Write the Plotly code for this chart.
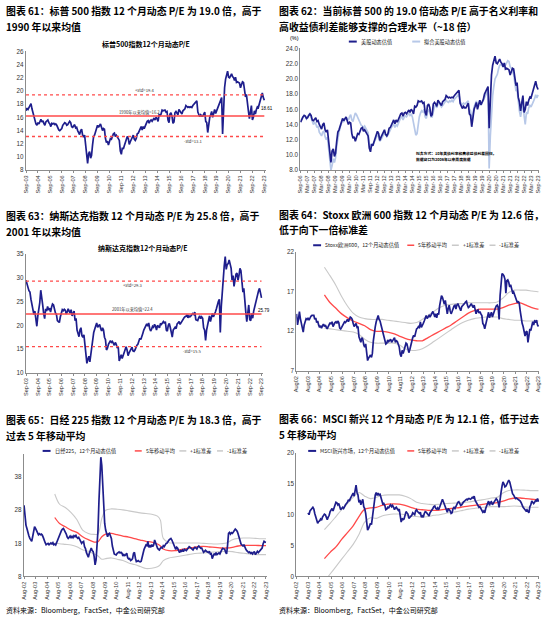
import pandas as pd
import plotly.graph_objects as go

# ======================= DATA =======================
# Fig 61/62: S&P 500 12M forward P/E, monthly 2003-09 .. 2023-09
sp500_start = "2003-09-01"
sp500_pe = [
    17.0, 17.4, 17.2, 17.6,
    17.9, 18.1, 17.3, 16.6, 16.0, 15.6, 15.0, 14.8, 15.2, 15.0, 15.5, 15.7,
    15.3, 15.5, 15.1, 14.8, 15.3, 15.4, 15.6, 15.2, 15.0, 14.6, 15.1, 15.0,
    15.1, 14.9, 15.0, 14.8, 14.3, 14.1, 14.0, 14.2, 14.3, 14.8, 15.0, 15.2,
    15.1, 14.8, 14.9, 15.2, 15.4, 15.2, 14.6, 14.5, 14.8, 14.9, 14.4, 14.5,
    14.0, 13.6, 13.4, 14.0, 14.2, 13.3, 13.0, 13.3, 12.0, 10.0, 9.0, 10.5,
    10.8, 9.8, 10.2, 11.8, 13.0, 13.3, 13.9, 14.4, 14.8, 14.5, 14.8, 15.0,
    14.5, 14.0, 14.3, 14.2, 12.8, 12.2, 12.4, 11.8, 12.3, 12.8, 12.7, 13.2,
    13.5, 13.6, 13.1, 13.3, 13.0, 12.6, 12.5, 10.9, 10.4, 11.4, 11.2, 11.7,
    12.2, 12.6, 13.1, 12.8, 11.9, 12.3, 12.6, 12.9, 13.3, 12.7, 12.5, 12.8,
    13.5, 13.6, 14.0, 14.2, 14.6, 14.1, 14.6, 14.3, 14.7, 15.0, 15.4, 15.5,
    15.1, 15.5, 15.6, 15.4, 15.6, 15.9, 15.6, 16.0, 15.8, 15.4, 16.4, 16.3,
    16.5, 17.1, 17.0, 17.0, 17.1, 16.8, 16.9, 15.6, 15.2, 16.5, 16.7, 16.2,
    15.1, 15.3, 16.7, 16.9, 16.7, 16.4, 17.2, 17.0, 16.8, 16.5, 17.0, 17.2,
    17.3, 17.8, 17.6, 17.5, 17.6, 17.5, 17.6, 17.5, 17.8, 18.0, 18.1, 18.4,
    18.5, 16.8, 16.4, 16.1, 16.4, 16.2, 16.2, 16.6, 16.8, 15.4, 15.2, 13.7,
    15.1, 16.0, 16.4, 16.9, 16.0, 16.8, 17.2, 16.6, 17.0, 17.3, 18.0, 18.3,
    18.6, 19.0, 13.5, 17.5, 20.5, 21.8, 22.4, 23.0, 22.1, 22.0, 22.3, 22.6,
    22.2, 22.0, 21.6, 22.1, 21.3, 21.4, 21.3, 21.2, 20.5, 20.9, 21.4, 21.3,
    20.0, 19.1, 19.5, 17.6, 17.0, 15.8, 16.8, 17.8, 15.6, 16.0, 17.0, 16.5,
    17.2, 17.6, 17.5, 18.0, 18.4, 19.1, 19.7, 19.0, 18.6,
]
sp500_mean, sp500_up, sp500_dn = 16.2, 19.4, 13.1
sp500_last_label = "18.61"

# Fig 62: fitted P/E, monthly 2006-09 .. 2023-09 (actual = sp500_pe from 2006-09)
fit_start = "2006-09-01"
fit_pe = [
    14.5, 14.8, 15.0, 15.1,
    15.0, 14.7, 14.9, 15.3, 15.4, 14.9, 14.4, 14.0, 14.3, 14.1, 13.6, 13.8,
    13.0, 12.8, 12.5, 13.0, 13.1, 12.4, 12.0, 12.3, 10.8, 8.8, 8.0, 8.6,
    9.5, 9.0, 9.6, 11.2, 12.5, 13.0, 13.6, 14.2, 14.6, 14.4, 14.7, 14.9,
    14.8, 14.6, 15.0, 15.3, 14.6, 14.4, 15.0, 15.5, 15.3, 14.9, 14.5, 14.2,
    13.9, 13.8, 13.6, 13.8, 13.5, 13.2, 12.9, 11.5, 11.0, 11.5, 11.2, 11.6,
    12.0, 12.2, 12.6, 12.5, 11.8, 12.0, 12.3, 12.6, 12.9, 12.6, 12.4, 12.6,
    13.1, 13.3, 13.6, 13.9, 14.1, 13.6, 14.0, 13.8, 14.2, 14.5, 14.9, 15.0,
    14.6, 15.0, 15.1, 15.0, 15.3, 15.5, 15.2, 15.4, 15.0, 14.2, 13.0, 12.6,
    12.8, 14.2, 15.0, 15.5, 15.8, 15.6, 16.0, 15.0, 14.8, 15.6, 15.9, 15.7,
    15.0, 15.0, 16.0, 16.4, 16.5, 16.2, 16.7, 16.8, 16.6, 16.3, 16.5, 16.8,
    16.9, 17.2, 17.0, 16.9, 17.1, 17.0, 17.2, 17.0, 17.3, 17.5, 17.7, 17.9,
    18.0, 17.0, 16.8, 16.6, 16.8, 16.7, 16.8, 17.0, 17.1, 16.0, 15.8, 14.6,
    15.6, 16.3, 16.7, 17.1, 16.4, 16.8, 17.2, 16.5, 16.9, 17.2, 17.6, 17.9,
    18.2, 18.5, 8.2, 12.5, 15.8, 17.8, 19.0, 20.0, 20.3, 20.6, 21.3, 21.8,
    21.9, 21.8, 21.5, 22.0, 21.8, 22.2, 22.4, 22.3, 21.6, 21.4, 21.0, 20.6,
    19.5, 18.4, 18.6, 16.8, 15.8, 15.0, 16.0, 16.9, 15.2, 14.0, 15.6, 15.4,
    16.2, 16.5, 16.3, 16.8, 17.0, 17.4, 17.9, 17.5, 17.9,
]

# Fig 63: Nasdaq 12M forward P/E, monthly 2003-09 .. 2023-09
ndx_start = "2003-09-01"
ndx_pe = [
    29.5, 28.5, 28.0, 27.3,
    27.0, 25.5, 24.5, 23.0, 22.3, 23.0, 21.0, 19.8, 22.0, 23.2, 24.8, 27.4,
    25.0, 24.2, 22.5, 21.4, 23.5, 23.0, 24.0, 23.2, 23.6, 22.8, 23.8, 24.5,
    24.3, 23.0, 22.6, 22.3, 21.0, 20.8, 20.6, 21.8, 22.5, 23.3, 23.1, 23.4,
    23.2, 22.4, 22.8, 23.5, 23.0, 22.6, 23.3, 22.0, 22.5, 23.0, 21.0, 21.5,
    19.0, 18.2, 17.6, 19.0, 19.5, 17.8, 17.5, 18.0, 15.5, 13.5, 12.0, 12.8,
    13.5, 12.3, 14.0, 16.0, 17.5, 18.5, 19.2, 19.8, 20.5, 19.6, 20.0, 20.2,
    19.4, 18.8, 19.5, 19.0, 17.5, 17.0, 14.8, 15.2, 16.0, 16.5, 16.8, 16.4,
    16.6, 16.2, 15.8, 16.4, 16.0, 15.2, 15.5, 12.5, 13.2, 13.8, 13.0, 13.6,
    14.4, 15.2, 15.5, 14.8, 13.6, 14.2, 14.5, 15.0, 15.4, 14.6, 14.5, 14.8,
    15.4, 15.8, 16.0, 16.5, 17.3, 17.0, 18.0, 18.3, 19.0, 19.5, 19.8, 20.3,
    19.8, 20.5, 19.4, 18.8, 19.2, 19.8, 19.6, 20.2, 19.8, 19.0, 20.0, 19.8,
    19.5, 20.4, 20.2, 20.5, 20.8, 20.4, 20.8, 19.0, 18.8, 20.0, 20.4, 19.6,
    18.0, 17.5, 19.0, 19.2, 19.6, 19.3, 20.3, 20.5, 20.8, 20.2, 20.6, 20.9,
    21.2, 21.6, 21.8, 21.9, 22.2, 21.6, 22.0, 21.8, 22.0, 22.4, 22.5, 22.3,
    22.8, 21.2, 21.0, 21.0, 21.6, 22.0, 21.4, 21.8, 21.5, 19.5, 19.0, 16.8,
    19.0, 20.3, 21.0, 22.0, 20.8, 21.8, 22.5, 21.8, 22.2, 22.8, 23.5, 24.5,
    25.0, 25.5, 18.5, 24.0, 27.5, 30.0, 32.5, 34.5, 31.8, 32.8, 33.0, 33.8,
    33.0, 32.0, 29.5, 30.5, 28.2, 30.0, 30.8, 31.0, 29.5, 30.5, 32.0, 31.5,
    28.2, 27.0, 27.8, 24.5, 22.8, 20.8, 23.2, 24.3, 21.2, 21.0, 22.5, 21.5,
    23.0, 24.0, 24.8, 25.2, 26.2, 27.3, 27.8, 26.2, 25.8,
]
ndx_mean, ndx_up, ndx_dn = 22.4, 29.3, 15.5
ndx_last_label = "25.79"

# Fig 64: Stoxx Europe 600, monthly 2002-08 .. 2023-08
stoxx_start = "2002-08-01"
stoxx_pe = [
    14.2, 12.8, 13.5, 14.5, 13.6,
    12.8, 12.0, 11.9, 12.8, 13.2, 13.6, 13.5, 13.7, 13.4, 13.8, 13.9, 14.0,
    14.0, 14.0, 13.5, 13.7, 13.1, 13.3, 12.8, 12.5, 12.7, 12.4, 12.7, 12.9,
    12.6, 12.8, 12.5, 12.3, 12.6, 12.8, 13.1, 12.9, 13.2, 12.6, 12.9, 13.1,
    13.2, 13.0, 13.3, 13.1, 12.4, 12.3, 12.5, 12.8, 13.0, 13.2, 13.1, 13.4,
    13.5, 13.2, 13.4, 13.8, 13.7, 13.5, 13.0, 12.6, 12.8, 13.0, 12.5, 12.6,
    11.3, 11.0, 10.6, 11.2, 11.0, 10.3, 10.0, 10.4, 9.5, 8.3, 8.6, 8.8,
    9.0, 8.7, 9.2, 10.8, 12.2, 12.6, 13.2, 13.8, 14.0, 13.5, 13.3, 12.8,
    12.3, 11.6, 11.5, 11.0, 10.4, 10.5, 10.9, 10.7, 10.9, 11.0, 10.6, 10.8,
    11.0, 11.2, 10.6, 10.8, 10.7, 10.3, 10.0, 9.1, 8.8, 9.6, 9.2, 9.6,
    10.1, 10.5, 10.4, 10.0, 9.3, 9.7, 10.3, 10.8, 11.2, 11.5, 11.3, 11.8,
    12.3, 12.4, 12.6, 12.5, 13.2, 12.5, 12.9, 13.0, 13.3, 13.8, 14.0, 13.6,
    13.8, 14.0, 13.8, 14.1, 14.3, 14.5, 14.2, 13.8, 14.2, 13.7, 14.3, 14.1,
    15.2, 16.0, 16.5, 16.3, 15.8, 15.4, 15.9, 15.0, 14.2, 14.9, 15.3, 14.6,
    14.2, 14.5, 15.0, 15.2, 15.3, 14.8, 15.3, 15.5, 15.2, 14.8, 14.6, 15.1,
    15.2, 15.4, 15.5, 15.7, 15.8, 15.3, 15.0, 15.1, 15.4, 15.5, 15.2, 15.0,
    15.3, 14.5, 14.2, 14.6, 14.7, 14.3, 14.5, 14.2, 14.0, 13.0, 12.8, 12.3,
    12.9, 13.5, 13.9, 14.4, 13.7, 14.2, 14.4, 13.8, 14.3, 14.5, 14.9, 15.2,
    15.3, 15.0, 13.5, 16.5, 18.0, 19.3, 19.2, 19.0, 18.6, 16.8, 18.4, 18.5,
    18.2, 17.6, 17.9, 17.5, 16.9, 17.0, 16.6, 16.5, 15.8, 15.6, 15.8, 15.5,
    14.5, 13.5, 13.0, 12.6, 12.1, 11.4, 11.9, 12.0, 10.6, 11.2, 12.3, 12.1,
    12.8, 13.2, 12.8, 13.3, 13.2, 13.4, 12.8, 12.6,
]
stoxx_band_dates = [f"{y}-{m}-01" for y in range(2005, 2024) for m in ("01", "07")][:38] + ["2023-08-01"]
stoxx_ma = [16.6, 15.6, 14.9, 14.2, 13.7, 13.3, 13.0, 12.7, 12.2, 12.0, 12.0, 11.9, 11.7, 11.4,
            11.1, 10.9, 10.8, 10.8, 11.2, 11.6, 12.0, 12.4, 12.8, 13.3, 13.8, 14.3, 14.6, 14.8,
            14.8, 14.8, 14.8, 15.0, 15.3, 15.5, 15.6, 15.3, 15.0, 14.8, 14.8]
stoxx_up = [20.1, 19.0, 17.8, 16.4, 15.2, 14.3, 13.8, 13.6, 13.5, 13.5, 13.5, 13.4, 13.3, 13.2,
            13.1, 13.0, 13.1, 13.5, 14.0, 14.5, 15.0, 15.3, 15.4, 15.5, 15.5, 15.6, 15.6, 15.6,
            15.6, 15.6, 15.7, 16.2, 16.9, 17.2, 17.2, 17.2, 17.1, 17.0, 17.0]
stoxx_dn = [12.4, 12.3, 12.2, 12.1, 12.0, 11.9, 11.6, 11.0, 10.6, 10.5, 10.5, 10.5, 10.5, 10.3,
            9.8, 9.6, 9.6, 9.8, 10.2, 10.7, 11.2, 11.7, 12.2, 12.7, 13.1, 13.4, 13.6, 13.7,
            13.8, 13.8, 13.8, 13.6, 13.5, 13.4, 13.4, 13.3, 13.3, 13.3, 13.3]

# Fig 65: Nikkei 225, monthly 2002-08 .. 2023-08
nikkei_start = "2002-08-01"
nikkei_pe = [
    29.5, 26.0, 23.5, 22.5, 21.0,
    20.3, 19.5, 19.0, 18.6, 20.0, 21.5, 23.0, 22.5, 21.8, 21.2, 20.6, 20.9,
    20.6, 20.8, 20.5, 19.8, 18.8, 18.2, 17.6, 17.7, 18.0, 17.6, 17.9, 18.1,
    17.8, 18.2, 17.6, 17.8, 17.5, 18.3, 18.6, 19.4, 20.6, 21.2, 21.9, 22.3,
    22.5, 21.9, 21.5, 20.8, 19.9, 19.5, 19.8, 20.2, 19.6, 20.1, 19.7, 20.3,
    20.0, 20.4, 19.8, 19.5, 19.8, 19.2, 18.8, 18.0, 18.4, 18.6, 17.0, 16.4,
    15.2, 14.5, 13.8, 15.0, 16.0, 16.6, 15.8, 15.5, 14.0, 11.5, 13.0, 17.0,
    22.0, 31.0, 38.0, 44.0, 41.5, 34.0, 28.0, 24.0, 22.0, 20.5, 20.0, 20.8,
    21.0, 20.2, 19.5, 17.2, 15.8, 14.8, 14.6, 14.5, 15.0, 15.2, 15.4, 15.1,
    15.3, 15.0, 14.2, 14.6, 14.3, 14.6, 15.0, 13.6, 13.3, 13.4, 12.8, 13.0,
    13.4, 15.0, 15.3, 13.5, 12.5, 12.6, 12.8, 12.5, 12.4, 12.6, 13.5, 15.0,
    16.2, 16.8, 17.5, 17.3, 18.6, 16.8, 17.5, 16.8, 17.6, 17.0, 17.5, 19.0,
    18.0, 17.0, 16.6, 16.2, 16.0, 16.5, 16.8, 16.6, 17.3, 17.0, 17.8, 18.0,
    18.1, 18.8, 19.0, 19.3, 19.5, 19.0, 18.2, 17.5, 16.6, 16.2, 16.8, 16.5,
    15.8, 15.2, 15.8, 15.6, 16.0, 15.5, 16.2, 16.0, 15.8, 16.2, 16.5, 17.0,
    16.8, 16.6, 16.2, 16.0, 16.5, 16.8, 16.6, 16.3, 16.9, 17.2, 16.8, 16.5,
    16.6, 15.6, 15.3, 15.6, 15.9, 15.6, 15.4, 15.2, 15.6, 14.8, 14.9, 13.4,
    14.2, 14.8, 14.6, 15.2, 14.6, 14.9, 15.1, 14.8, 15.6, 16.1, 16.5, 16.4,
    16.2, 15.3, 14.8, 17.5, 21.0, 21.3, 20.8, 21.2, 21.0, 21.4, 22.0, 22.3,
    22.0, 21.6, 20.8, 19.8, 18.6, 17.8, 17.5, 17.2, 17.6, 16.6, 16.2, 15.8,
    15.5, 15.2, 15.4, 15.0, 15.2, 14.8, 15.3, 15.4, 14.6, 15.0, 15.6, 15.2,
    15.5, 15.8, 16.0, 16.6, 17.8, 18.6, 18.4, 18.3,
]
nikkei_band_dates = ["2005-04-01", "2005-09-01", "2006-03-01", "2006-09-01", "2007-03-01", "2007-09-01",
                     "2008-03-01", "2008-09-01", "2009-01-01", "2009-05-01", "2009-09-01", "2010-03-01",
                     "2010-09-01", "2011-03-01", "2011-09-01", "2012-03-01", "2012-09-01", "2013-03-01",
                     "2013-09-01", "2014-03-01", "2014-06-01", "2014-09-01", "2015-03-01", "2015-09-01",
                     "2016-03-01", "2016-09-01", "2017-03-01", "2017-09-01", "2018-03-01", "2018-09-01",
                     "2019-03-01", "2019-09-01", "2020-03-01", "2020-09-01", "2021-03-01", "2021-09-01",
                     "2022-03-01", "2022-09-01", "2023-03-01", "2023-08-01"]
nikkei_ma = [25.8, 24.0, 23.0, 22.0, 21.3, 20.0, 19.1, 18.4, 18.5, 20.0, 20.8, 21.0, 20.6, 20.2,
             19.9, 19.4, 19.0, 18.6, 18.4, 17.8, 17.2, 16.3, 15.8, 15.8, 16.1, 16.4, 16.7, 17.0,
             17.1, 16.9, 16.8, 16.6, 16.6, 16.8, 17.2, 17.4, 17.4, 17.4, 17.3, 17.3]
nikkei_up = [32.9, 29.8, 28.8, 27.3, 25.2, 22.0, 21.0, 20.7, 20.8, 25.5, 28.0, 28.4, 28.3, 28.1,
             27.8, 27.5, 27.2, 27.0, 26.8, 26.2, 25.0, 19.5, 18.2, 18.1, 18.1, 18.1, 18.1, 18.1,
             18.0, 17.9, 17.8, 17.9, 18.1, 19.1, 19.5, 19.6, 19.6, 19.5, 19.4, 19.4]
nikkei_dn = [18.1, 17.9, 17.7, 17.5, 17.0, 16.1, 15.6, 14.8, 14.2, 13.2, 13.4, 13.6, 13.2, 12.8,
             12.1, 11.6, 11.0, 10.4, 10.5, 10.9, 11.6, 12.8, 13.6, 13.9, 14.2, 14.5, 14.8, 15.0,
             15.1, 15.3, 15.4, 15.5, 15.6, 15.5, 15.2, 15.0, 14.8, 14.6, 14.6, 14.6]

# Fig 66: MSCI EM, monthly 2003-08 .. 2023-08
msci_start = "2003-08-01"
msci_pe = [
    10.3, 10.0, 10.6, 10.9, 11.0,
    11.2, 10.9, 10.2, 9.6, 8.8, 8.6, 8.9, 9.0, 9.3, 9.1, 9.6, 9.9,
    10.1, 10.0, 9.4, 9.2, 9.6, 9.9, 10.5, 10.8, 11.0, 10.6, 11.2, 11.6,
    12.0, 11.9, 11.6, 11.8, 11.2, 10.8, 11.0, 11.2, 11.0, 11.4, 11.6, 11.8,
    12.0, 12.4, 12.2, 12.6, 13.0, 13.2, 13.5, 13.0, 13.8, 14.8, 13.6, 13.2,
    12.0, 12.4, 11.6, 12.2, 12.5, 11.3, 11.0, 10.2, 9.0, 7.5, 7.8, 8.4,
    8.6, 8.4, 9.5, 11.0, 12.6, 13.2, 13.6, 13.1, 13.5, 13.2, 13.3, 12.8,
    12.2, 11.6, 11.8, 11.5, 10.8, 10.9, 11.2, 11.1, 11.4, 11.6, 11.3, 11.5,
    11.2, 10.8, 11.1, 11.2, 10.9, 10.7, 10.9, 9.6, 8.8, 9.4, 9.2, 9.3,
    10.0, 10.5, 10.3, 10.1, 9.4, 9.6, 9.8, 9.9, 10.3, 10.2, 10.0, 10.6,
    10.8, 10.5, 10.3, 10.2, 10.4, 9.6, 9.8, 9.6, 10.2, 10.5, 10.4, 10.2,
    9.9, 9.8, 10.3, 10.5, 10.8, 11.0, 11.3, 11.4, 11.0, 10.9, 11.1, 10.8,
    11.2, 11.6, 11.8, 12.5, 12.1, 11.6, 11.3, 10.6, 10.4, 11.0, 10.8, 10.6,
    10.2, 10.3, 11.0, 11.2, 11.0, 11.3, 11.8, 12.0, 12.1, 11.9, 11.5, 11.6,
    11.9, 12.1, 12.2, 12.3, 12.5, 12.4, 12.6, 12.6, 12.5, 12.6, 12.8, 12.7,
    13.0, 12.3, 12.0, 11.8, 11.6, 11.2, 11.3, 11.0, 10.8, 10.4, 10.6, 10.3,
    11.0, 11.6, 11.8, 12.2, 11.5, 12.0, 12.1, 11.6, 11.9, 12.2, 12.3, 12.6,
    12.4, 12.0, 11.2, 12.8, 13.6, 14.6, 15.3, 15.0, 14.5, 14.6, 15.0, 15.4,
    15.6, 15.3, 14.6, 14.0, 13.4, 13.2, 12.8, 12.6, 12.7, 12.6, 12.5, 12.4,
    12.2, 11.9, 11.5, 11.2, 11.0, 10.8, 10.6, 10.8, 10.4, 10.3, 11.3, 11.6,
    12.2, 12.0, 11.8, 12.0, 12.3, 12.2, 12.6, 12.1,
]
msci_band_dates = [f"{y}-{m}-01" for y in range(2005, 2023) for m in ("01", "07")] + ["2023-01-01", "2023-08-01"]
msci_ma = [2.9, 3.9, 4.8, 6.0, 7.1, 8.2, 9.7, 10.9, 11.1, 11.2, 11.5, 11.7, 11.75, 11.7, 11.5, 11.2,
           10.9, 10.8, 10.7, 10.7, 10.75, 10.9, 11.0, 11.1, 11.25, 11.4, 11.5, 11.6, 11.75, 11.85,
           11.95, 12.2, 12.5, 12.7, 12.7, 12.6, 12.5, 12.4]
msci_up = [7.6, 8.6, 9.7, 10.8, 11.8, 12.8, 13.6, 13.0, 12.6, 12.8, 13.1, 13.2, 13.2, 13.2, 13.0, 12.6,
           12.0, 11.8, 11.7, 11.6, 11.7, 11.8, 11.85, 11.9, 11.95, 12.05, 12.2, 12.35, 12.5, 12.7,
           12.8, 13.5, 13.9, 14.0, 14.0, 13.95, 13.9, 13.9]
msci_dn = [-0.8, 0.4, 1.6, 2.8, 4.0, 5.2, 6.8, 8.8, 9.5, 9.4, 9.8, 10.0, 10.1, 10.1, 10.0, 9.8,
           9.7, 9.6, 9.7, 9.9, 10.0, 10.2, 10.35, 10.5, 10.7, 10.9, 11.0, 11.15, 11.25, 11.3,
           11.3, 11.3, 11.35, 11.4, 11.35, 11.25, 11.2, 11.2]

# Tick labels
sep_ticks = [f"{y}-09-01" for y in range(2003, 2024)]
sep_labels = [f"Sep-{y % 100:02d}" for y in range(2003, 2024)]
semi_ticks = [f"{y}-{m}-01" for y in range(2006, 2024) for m in ("03", "09")][1:]
semi_labels = [f"{'Mar' if m == '03' else 'Sep'}-{y % 100:02d}" for y in range(2006, 2024) for m in ("03", "09")][1:]
aug_ticks = [f"{y}-08-01" for y in range(2002, 2024)]
aug_labels_nodash = [f"Aug{y % 100:02d}" for y in range(2002, 2024)]
aug_labels = [f"Aug-{y % 100:02d}" for y in range(2002, 2024)]

titles = [
    ("图表 61：标普 500 指数 12 个月动态 P/E 为 19.0 倍，高于", "1990 年以来均值"),
    ("图表 62：当前标普 500 的 19.0 倍动态 P/E 高于名义利率和", "高收益债利差能够支撑的合理水平（~18 倍）"),
    ("图表 63：纳斯达克指数 12 个月动态 P/E 为 25.8 倍，高于", "2001 年以来均值"),
    ("图表 64：Stoxx 欧洲 600 指数 12 个月动态 P/E 为 12.6 倍，", "低于向下一倍标准差"),
    ("图表 65：日经 225 指数 12 个月动态 P/E 为 18.3 倍，高于", "过去 5 年移动平均"),
    ("图表 66：MSCI 新兴 12 个月动态 P/E 为 12.1 倍，低于过去", "5 年移动平均"),
]
source_text = "资料来源：Bloomberg，FactSet，中金公司研究部"

# ======================= STYLE =======================
W, H = 550, 622
CJK = "Noto Sans CJK SC"
LAT = "Liberation Sans, Arial, sans-serif"
NAVY = "#1e1e8c"
LIGHT = "#b7c8e8"
RED = "#ff4a4a"
GRAY = "#c9c9c9"
AXC = "#8c8c8c"


def px(x):
    return x / W


def py(y):
    return 1 - y / H


def months(start, n):
    return pd.date_range(start, periods=n, freq="MS")


fig = go.Figure()
shapes, annotations = [], []


def line(x, y, color, width, ax, dash=None, spline=False):
    fig.add_trace(go.Scatter(
        x=x, y=y, mode="lines", xaxis="x" + ax, yaxis="y" + ax,
        line=dict(color=color, width=width, dash=dash,
                  shape="spline" if spline else "linear",
                  smoothing=0.9 if spline else None),
        hoverinfo="skip", showlegend=False))


# --- TL: S&P 500
d = months(sp500_start, len(sp500_pe))
line(d, sp500_pe, NAVY, 1.7, "")
for v, dash, w in ((sp500_mean, None, 1.4), (sp500_up, "dot", 1.3), (sp500_dn, "dot", 1.3)):
    line([d[0], d[-1]], [v, v], RED, w, "", dash=dash)
# --- TR
line(months(fit_start, len(fit_pe)), fit_pe, LIGHT, 1.7, "2")
line(months(fit_start, len(sp500_pe) - 36), sp500_pe[36:], NAVY, 1.7, "2")
# --- ML: Nasdaq
d = months(ndx_start, len(ndx_pe))
line(d, ndx_pe, NAVY, 1.7, "3")
for v, dash, w in ((ndx_mean, None, 1.4), (ndx_up, "dot", 1.3), (ndx_dn, "dot", 1.3)):
    line([d[0], d[-1]], [v, v], RED, w, "3", dash=dash)
# --- MR: Stoxx
line(stoxx_band_dates, stoxx_up, GRAY, 1.1, "4", spline=True)
line(stoxx_band_dates, stoxx_dn, GRAY, 1.1, "4", spline=True)
line(stoxx_band_dates, stoxx_ma, RED, 1.3, "4", spline=True)
line(months(stoxx_start, len(stoxx_pe)), stoxx_pe, NAVY, 1.7, "4")
# --- BL: Nikkei
line(nikkei_band_dates, nikkei_up, GRAY, 1.1, "5", spline=True)
line(nikkei_band_dates, nikkei_dn, GRAY, 1.1, "5", spline=True)
line(nikkei_band_dates, nikkei_ma, RED, 1.3, "5", spline=True)
line(months(nikkei_start, len(nikkei_pe)), nikkei_pe, NAVY, 1.7, "5")
# --- BR: MSCI EM
line(msci_band_dates, msci_up, GRAY, 1.1, "6", spline=True)
line(msci_band_dates, msci_dn, GRAY, 1.1, "6", spline=True)
line(msci_band_dates, msci_ma, RED, 1.3, "6", spline=True)
line(months(msci_start, len(msci_pe)), msci_pe, NAVY, 1.7, "6")

# ======================= AXES =======================
tickfont = dict(family=LAT, size=6.3, color="#333333")
xtickfont = dict(family=LAT, size=5.6, color="#333333")


def xax(dom, rng, tv, tt, anchor):
    return dict(domain=[px(dom[0]), px(dom[1])], range=rng, type="date", anchor=anchor,
                tickvals=tv, ticktext=tt, tickangle=-90, tickfont=xtickfont,
                showline=True, linecolor=AXC, linewidth=1, ticks="outside", ticklen=2,
                tickcolor=AXC, showgrid=False, zeroline=False, fixedrange=True)


def yax(dom, rng, dtick, anchor, fmt=None):
    return dict(domain=[py(dom[1]), py(dom[0])], range=rng, dtick=dtick, tick0=rng[0], anchor=anchor,
                tickfont=tickfont, tickformat=fmt, showline=True, linecolor=AXC, linewidth=1,
                ticks="", showgrid=False, zeroline=False, fixedrange=True)


layout = dict(
    width=W, height=H, margin=dict(l=0, r=0, t=0, b=0),
    paper_bgcolor="white", plot_bgcolor="white", showlegend=False, hovermode=False,
    xaxis=xax((23, 265), ["2003-08-25", "2023-10-10"], sep_ticks, sep_labels, "y"),
    yaxis=yax((48, 168), [8, 26], 2, "x"),
    xaxis2=xax((300, 541), ["2006-08-22", "2023-09-28"], semi_ticks, semi_labels, "y2"),
    yaxis2=yax((45, 168), [8, 24], 2, "x2", ".1f"),
    xaxis3=xax((23, 262), ["2003-08-25", "2023-10-05"], sep_ticks, sep_labels, "y3"),
    yaxis3=yax((253, 373), [10, 35], 5, "x3"),
    xaxis4=xax((296, 541), ["2002-07-25", "2023-08-20"], aug_ticks, aug_labels_nodash, "y4"),
    yaxis4=yax((251, 371), [7, 22], 5, "x4"),
    xaxis5=xax((21, 266), ["2002-07-25", "2023-08-20"], aug_ticks, aug_labels, "y5"),
    yaxis5=yax((455, 579), [8, 45], 10, "x5"),
    xaxis6=xax((296, 541), ["2002-07-25", "2023-08-20"], aug_ticks, aug_labels, "y6"),
    yaxis6=yax((454, 579), [0, 20], 5, "x6"),
)
layout["yaxis5"]["tickvals"] = [8, 18, 28, 38]

# ======================= TEXT =======================


def text(x, y, s, size, anchor="left", bold=False, color="#000000", family=CJK):
    annotations.append(dict(x=px(x), y=py(y), xref="paper", yref="paper", text=f"<b>{s}</b>" if bold else s,
                            showarrow=False, xanchor=anchor, yanchor="middle",
                            font=dict(family=family, size=size, color=color)))


title_pos = [(1, 7, 23), (277, 7, 23), (1, 214, 231), (277, 213, 229), (1, 421, 437), (277, 420, 436)]
for (l1, l2), (x, y1, y2) in zip(titles, title_pos):
    text(x, y1, l1, 9.9, bold=True)
    text(x, y2, l2, 9.9, bold=True)

text(144, 40, "标普500指数12个月动态P/E", 7, anchor="center", bold=True)
text(141, 247, "纳斯达克指数12个月动态P/E", 7, anchor="center", bold=True)
text(288, 34, "(%)", 5.5, family=LAT)
text(1, 613, source_text, 7)
text(277, 613, source_text, 7)

# line labels (data coordinates)


def dlabel(ax, x, y, s, yshift):
    annotations.append(dict(x=x, y=y, xref="x" + ax, yref="y" + ax, text=s, showarrow=False,
                            yshift=yshift, font=dict(family=CJK, size=4.2, color="#333333")))


dlabel("", "2013-08-01", sp500_up, f"+std={sp500_up}", 5)
dlabel("", "2013-03-01", sp500_mean, f"1990年以来均值={sp500_mean}", 4)
dlabel("", "2017-10-01", sp500_dn, f"-std={sp500_dn}", -5)
dlabel("3", "2012-10-01", ndx_up, f"+std={ndx_up}", -4)
dlabel("3", "2012-10-01", ndx_mean, f"2001年以来均值={ndx_mean}", 4)
dlabel("3", "2017-11-01", ndx_dn, f"-std={ndx_dn}", -4)
text(258, 106, sp500_last_label, 4.5, family=LAT)
text(255, 310, ndx_last_label, 4.5, family=LAT)
text(415, 151, "<b>拟合方式：10年美债利率和高收益债利差回归，</b>", 3.8)
text(415, 157, "<b>数据窗口为2006年以来周度数据</b>", 3.8)

# legends


def legend_item(x0, x1, y, color, width, label):
    shapes.append(dict(type="line", xref="paper", yref="paper", x0=px(x0), x1=px(x1), y0=py(y), y1=py(y),
                       line=dict(color=color, width=width)))
    text(x1 + 2, y, label, 5.2, color="#222222")


legend_item(349, 357, 38, NAVY, 2, "美股动态估值")
legend_item(413, 421, 38, LIGHT, 2, "拟合美股动态估值")
for x0, y, lab in ((313, 244, "Stoxx欧洲600，12个月动态估值"), (40, 452, "日经225，12个月动态估值"),
                   (308, 452, "MSCI新兴市场，12个月动态估值")):
    legend_item(x0, x0 + 8, y, NAVY, 2, lab)
for base, y in ((296, 244), (21, 452), (296, 452)):
    off = base - 296
    legend_item(408 + off, 415 + off, y, RED, 1.5, "5年移动平均")
    legend_item(453 + off, 460 + off, y, GRAY, 1.5, "+1标准差")
    legend_item(491 + off, 497 + off, y, GRAY, 1.5, "-1标准差")

layout["shapes"] = shapes
layout["annotations"] = annotations
fig.update_layout(**layout)
fig.write_html("out.html")
